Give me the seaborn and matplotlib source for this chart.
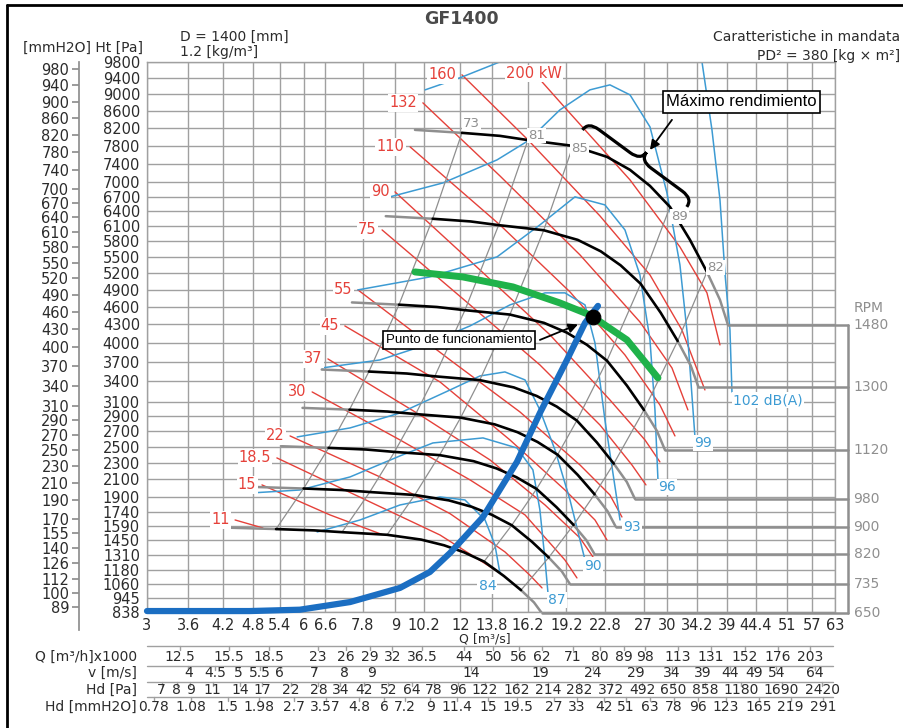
import numpy as np
import seaborn as sns
import matplotlib
matplotlib.use('Agg')
import matplotlib.pyplot as plt
import matplotlib.transforms as mtransforms
from matplotlib.path import Path
from matplotlib.patches import PathPatch
from matplotlib.lines import Line2D
from matplotlib.ticker import NullLocator

# ---------------- axes ticks ----------------
q_ticks = [3, 3.6, 4.2, 4.8, 5.4, 6, 6.6, 7.8, 9, 10.2, 12, 13.8, 16.2, 19.2,
           22.8, 27, 30, 34.2, 39, 44.4, 51, 57, 63]
ht_ticks = [838, 945, 1060, 1180, 1310, 1450, 1590, 1740, 1900, 2100, 2300, 2500,
            2700, 2900, 3100, 3400, 3700, 4000, 4300, 4600, 4900, 5200, 5500, 5800,
            6100, 6400, 6700, 7000, 7400, 7800, 8200, 8600, 9000, 9400, 9800]
mm_ticks = [980, 940, 900, 860, 820, 780, 740, 700, 670, 640, 610, 580, 550, 520,
            490, 460, 430, 400, 370, 340, 310, 290, 270, 250, 230, 210, 190, 170,
            155, 140, 126, 112, 100, 89]

# ---------------- fan curves (Q m3/s, Ht Pa) ----------------
rpm = [1480, 1300, 1120, 980, 900, 820, 735, 650]
q_1480 = [9.82, 12.09, 14.30, 16.19, 19.76, 22.97, 25.43, 27.78, 30.35, 33.16, 35.75, 37.87, 39.23]
h_1480 = [8163, 8095, 8026, 7930, 7799, 7554, 7269, 6925, 6487, 5828, 5221, 4720, 4292]
q_1300 = [8.63, 10.62, 12.56, 14.22, 17.36, 20.18, 22.34, 24.40, 26.66, 29.13, 31.40, 33.26, 34.46]
h_1300 = [6298, 6246, 6192, 6118, 6017, 5828, 5608, 5343, 5005, 4497, 4028, 3642, 3311]
q_1120 = [7.43, 9.15, 10.82, 12.25, 14.95, 17.38, 19.24, 21.02, 22.97, 25.09, 27.05, 28.66, 29.69]
h_1120 = [4675, 4636, 4596, 4541, 4466, 4326, 4163, 3966, 3715, 3338, 2990, 2703, 2458]
q_980 = [6.50, 8.01, 9.47, 10.72, 13.08, 15.21, 16.84, 18.40, 20.10, 21.96, 23.67, 25.08, 25.98]
h_980 = [3579, 3549, 3519, 3477, 3420, 3312, 3187, 3036, 2844, 2555, 2289, 2070, 1882]
q_900 = [5.97, 7.35, 8.70, 9.85, 12.02, 13.97, 15.46, 16.89, 18.46, 20.17, 21.74, 23.03, 23.86]
h_900 = [3019, 2994, 2968, 2933, 2884, 2793, 2688, 2561, 2399, 2155, 1931, 1745, 1587]
q_820 = [5.44, 6.70, 7.92, 8.97, 10.95, 12.73, 14.09, 15.39, 16.82, 18.37, 19.81, 20.98, 21.74]
h_820 = [2506, 2485, 2464, 2434, 2394, 2319, 2231, 2126, 1991, 1789, 1603, 1449, 1318]
q_735 = [4.88, 6.00, 7.10, 8.04, 9.81, 11.41, 12.63, 13.80, 15.07, 16.47, 17.75, 18.81, 19.48]
h_735 = [2013, 1996, 1979, 1956, 1923, 1863, 1793, 1708, 1600, 1437, 1288, 1164, 1059]
q_650 = [4.31, 5.31, 6.28, 7.11, 8.68, 10.09, 11.17, 12.20, 13.33, 14.56, 15.70, 16.63, 17.23]
h_650 = [1575, 1561, 1548, 1530, 1504, 1457, 1402, 1336, 1251, 1124, 1007, 910, 828]

# iso-efficiency lines go through the same point of every speed curve
eff_labels = ['73', '81', '85', '89', '82']
eff_index = [1, 3, 4, 8, 10]

# ---------------- absorbed power lines (kW) ----------------
kw_200_q = [17.23, 19.24, 25.43, 31.72, 35.75, 37.87]
kw_200_h = [9306, 8630, 7053, 5692, 4843, 3964]
kw_160_q = [12.09, 16.19, 22.26, 27.78, 32.00, 35.43]
kw_160_h = [9479, 7935, 6304, 5167, 4208, 3275]
kw_132_q = [10.17, 14.30, 20.38, 26.57, 30.62, 32.86]
kw_132_h = [8797, 7139, 5540, 4342, 3604, 2990]
kw_110_q = [9.61, 14.30, 19.50, 24.87, 29.03, 31.03]
kw_110_h = [7777, 6123, 4860, 3805, 3060, 2639]
kw_90_q = [8.99, 13.09, 17.85, 23.27, 27.17, 29.03]
kw_90_h = [6798, 5259, 4127, 3131, 2587, 2310]
kw_75_q = [8.49, 12.53, 17.07, 22.26, 25.65, 27.29]
kw_75_h = [6023, 4632, 3650, 2785, 2273, 2037]
kw_55_q = [7.63, 11.47, 15.63, 20.38, 23.27, 24.54]
kw_55_h = [4896, 3727, 2962, 2273, 1923, 1685]
kw_45_q = [7.20, 10.97, 14.95, 19.07, 21.78, 22.97]
kw_45_h = [4275, 3393, 2587, 1979, 1654, 1453]
kw_37_q = [6.68, 10.04, 13.69, 17.46, 20.38, 21.59]
kw_37_h = [3743, 2921, 2334, 1813, 1473, 1293]
kw_30_q = [6.23, 9.19, 12.53, 15.98, 19.07, 20.11]
kw_30_h = [3246, 2587, 2095, 1707, 1265, 1108]
kw_22_q = [5.65, 8.41, 11.47, 14.62, 16.34, 17.23]
kw_22_h = [2639, 2130, 1720, 1340, 1130, 1025]
kw_18_q = [5.33, 8.05, 10.97, 14.30]
kw_18_h = [2359, 1846, 1502, 1150]
kw_15_q = [4.99, 6.74, 8.49]
kw_15_h = [2037, 1707, 1507]
kw_11_q = [4.43, 5.01]
kw_11_h = [1654, 1572]

# ---------------- noise lines dB(A) ----------------
db_84_q = [6.37, 7.70, 9.19, 10.97, 12.25, 13.39, 13.99, 14.30]
db_84_h = [1532, 1654, 1813, 1901, 1868, 1654, 1405, 1150]
db_87_q = [4.77, 5.90, 7.37, 9.19, 10.63, 13.27, 15.42, 16.55, 17.07, 17.46, 17.69]
db_87_h = [1946, 1979, 2130, 2384, 2548, 2613, 2484, 2213, 1759, 1265, 984]
db_90_q = [5.83, 7.37, 9.19, 11.47, 13.09, 14.62, 15.98, 17.07, 18.25, 19.50, 20.84]
db_90_h = [2626, 2745, 2948, 3275, 3482, 3543, 3423, 2990, 2459, 1868, 1265]
db_93_q = [6.51, 8.41, 10.04, 12.53, 14.95, 17.46, 19.07, 20.84, 21.78, 22.76, 24.33]
db_93_h = [3604, 3727, 3933, 4275, 4632, 4843, 4843, 4632, 3996, 2853, 1654]
db_96_q = [7.63, 10.49, 14.12, 17.07, 19.93, 22.76, 24.87, 26.57, 27.78, 28.40, 28.78]
db_96_h = [4896, 5130, 5502, 6123, 6694, 6528, 6023, 5167, 4045, 2990, 2095]
db_99_q = [8.79, 11.12, 14.12, 16.19, 18.65, 21.30, 23.27, 25.43, 27.78, 29.95, 31.72, 32.86, 33.90]
db_99_h = [6694, 6989, 7487, 7912, 8630, 9110, 9232, 8989, 8232, 6778, 5351, 4045, 2626]
db_102_q = [10.27, 11.98, 14.30, 17.07, 22.26, 27.78, 33.16, 34.97, 36.55, 37.87, 38.71, 39.58, 39.93]
db_102_h = [9110, 9405, 9803, 10367, 10760, 10628, 10237, 9803, 8163, 6631, 5203, 4208, 3246]

# ---------------- system curve, selected speed, duty point ----------------
sys_q = [3.0, 4.73, 5.90, 7.37, 9.19, 10.49, 11.47, 13.27, 15.42, 17.07, 19.24, 20.84, 22.07]
sys_h = [845, 845, 855, 913, 1025, 1159, 1330, 1685, 2310, 2948, 3727, 4325, 4615]
green_q = [9.82, 12.13, 15.15, 18.65, 21.30, 25.09, 28.78]
green_h = [5221, 5130, 4949, 4666, 4460, 4045, 3453]
duty_q = [21.6]
duty_h = [4420]

# ---------------- bottom scales ----------------
q_m3h = [12.5, 15.5, 18.5, 23, 26, 29, 32, 36.5, 44, 50, 56, 62, 71, 80, 89, 98,
         113, 131, 152, 176, 203]
v_ms = [4, 4.5, 5, 5.5, 6, 7, 8, 9, 14, 19, 24, 29, 34, 39, 44, 49, 54, 64]
hd_pa = [7, 8, 9, 11, 14, 17, 22, 28, 34, 42, 52, 64, 78, 96, 122, 162, 214, 282,
         372, 492, 650, 858, 1180, 1690, 2420]
hd_mm = [0.78, 1.08, 1.5, 1.98, 2.7, 3.57, 4.8, 6, 7.2, 9, 11.4, 15, 19.5, 27, 33,
         42, 51, 63, 78, 96, 123, 165, 219, 291]

RED = '#e5413a'
BLUE = '#3d9bd3'
GRAY = '#8f8f8f'
GRID = '#a0a0a0'
TXT = '#2b2b2b'
NARROW = ['Liberation Sans Narrow', 'Liberation Sans', 'DejaVu Sans']
NUM = 10.5

sns.set_theme(style='white')
plt.rcParams['font.family'] = ['DejaVu Sans']

W, H = 904, 728
fig = plt.figure(figsize=(W / 100, H / 100), dpi=100)
ax = fig.add_axes([147 / W, 116 / H, 688 / W, 550 / H])
ax.set_xscale('log')
ax.set_yscale('function', functions=(np.sqrt, np.square))
ax.set_xlim(3, 63)
ax.set_ylim(838, 9800)


def line(q, h, color, lw, z, **kw):
    sns.lineplot(x=q, y=h, ax=ax, color=color, linewidth=lw, sort=False,
                 estimator=None, legend=False, zorder=z, **kw)


white_box = dict(boxstyle='square,pad=0.08', fc='white', ec='none')

# power lines
kw_lines = [('200 kW', kw_200_q, kw_200_h), ('160', kw_160_q, kw_160_h),
            ('132', kw_132_q, kw_132_h), ('110', kw_110_q, kw_110_h),
            ('90', kw_90_q, kw_90_h), ('75', kw_75_q, kw_75_h),
            ('55', kw_55_q, kw_55_h), ('45', kw_45_q, kw_45_h),
            ('37', kw_37_q, kw_37_h), ('30', kw_30_q, kw_30_h),
            ('22', kw_22_q, kw_22_h), ('18.5', kw_18_q, kw_18_h),
            ('15', kw_15_q, kw_15_h), ('11', kw_11_q, kw_11_h)]
for name, q, h in kw_lines:
    line(q, h, RED, 1.0, 2)
    if name == '200 kW':
        ax.annotate(name, (q[0], h[0]), xytext=(-6, 6), textcoords='offset points',
                    ha='center', va='center', color=RED, fontsize=10.5, zorder=7,
                    bbox=white_box)
    else:
        ax.annotate(name, (q[0], h[0]), xytext=(-4, 0), textcoords='offset points',
                    ha='right', va='center', color=RED, fontsize=10.5, zorder=7,
                    bbox=white_box)

# noise lines
db_lines = [('84', db_84_q, db_84_h, (-9, -9), 'center'),
            ('87', db_87_q, db_87_h, (6.5, -5), 'center'),
            ('90', db_90_q, db_90_h, (6, -4), 'center'),
            ('93', db_93_q, db_93_h, (8.5, -5), 'center'),
            ('96', db_96_q, db_96_h, (6.5, -5), 'center'),
            ('99', db_99_q, db_99_h, (6, -4.5), 'center'),
            ('102 dB(A)', db_102_q, db_102_h, (1, -6), 'left')]
for name, q, h, off, ha in db_lines:
    line(q, h, BLUE, 1.1, 2)
    ax.annotate(name, (q[-1], h[-1]), xytext=off, textcoords='offset points',
                ha=ha, va='center', color=BLUE, fontsize=10, zorder=7, bbox=white_box)

# fan curves: grey stall part, black working part, grey run-out and speed step
fan_curves = [(q_1480, h_1480), (q_1300, h_1300), (q_1120, h_1120), (q_980, h_980),
              (q_900, h_900), (q_820, h_820), (q_735, h_735), (q_650, h_650)]
q_far = ax.get_xlim()[1] * 1.06
right_trans = mtransforms.blended_transform_factory(ax.transAxes, ax.transData)
for n, (q, h) in zip(rpm, fan_curves):
    line(q[0:2], h[0:2], GRAY, 1.8, 3)
    line(q[10:], h[10:], GRAY, 1.8, 3)
    line([q[-1], q_far], [h[-1], h[-1]], GRAY, 1.8, 3, clip_on=False)
    line(q[1:11], h[1:11], 'black', 1.9, 3.5)
    ax.text(1.027, h[-1], str(n), transform=right_trans, ha='left', va='center',
            color=GRAY, fontsize=10)
line([q_far, q_far], [h_1480[-1], h_650[-1]], GRAY, 1.8, 3, clip_on=False)
ax.annotate('RPM', (1.027, h_1480[-1]), xycoords=right_trans, xytext=(0, 12),
            textcoords='offset points', ha='left', va='center', color=GRAY, fontsize=10)

# iso-efficiency lines
eff_offsets = [(7, 7), (6.5, 3.5), (5, -2), (7, -7), (6, 3.5)]
for lab, idx, off in zip(eff_labels, eff_index, eff_offsets):
    qs = [c[0][idx] for c in fan_curves]
    hs = [c[1][idx] for c in fan_curves]
    line(qs, hs, GRAY, 0.9, 2.5)
    ax.annotate(lab, (qs[0], hs[0]), xytext=off, textcoords='offset points',
                ha='center', va='center', color=GRAY, fontsize=9.5, zorder=7,
                bbox=white_box)

# selected speed, system curve and duty point
line(green_q, green_h, '#1fb24a', 5.0, 4)
line(sys_q, sys_h, '#1b6ec2', 4.5, 5, clip_on=False)
sns.scatterplot(x=duty_q, y=duty_h, ax=ax, color='black', s=110, zorder=6,
                edgecolor='black', legend=False)

# annotations
ax.text(41.7, 8821, 'Máximo rendimiento', ha='center', va='center', fontsize=12,
        family=NARROW, color='black', zorder=8,
        bbox=dict(boxstyle='square,pad=0.2', fc='white', ec='black', lw=1.2))
ax.annotate('', xy=(27.78, 7709), xytext=(30.62, 8396), zorder=8,
            arrowprops=dict(arrowstyle='-|>', color='black', lw=1.3,
                            mutation_scale=14, shrinkA=0, shrinkB=0))
ax.text(11.93, 4045, 'Punto de funcionamiento', ha='center', va='center',
        fontsize=9.5, family=NARROW, color='black', zorder=8,
        bbox=dict(boxstyle='square,pad=0.2', fc='white', ec='black', lw=1.2))
ax.annotate('', xy=(20.2, 4300), xytext=(17.07, 4045), zorder=8,
            arrowprops=dict(arrowstyle='-|>', color='black', lw=1.3,
                            mutation_scale=14, shrinkA=0, shrinkB=0))


def draw_brace(p0, p1, width):
    a = ax.transData.transform(p0)
    b = ax.transData.transform(p1)
    d = b - a
    L = np.hypot(*d)
    u = d / L
    nrm = np.array([-u[1], u[0]])
    hh = width / 2
    qq = 0.1 * L
    local = [(0, 0), (0, hh), (qq, hh), (L / 2 - qq, hh), (L / 2, hh), (L / 2, width),
             (L / 2, hh), (L / 2 + qq, hh), (L - qq, hh), (L, hh), (L, 0)]
    codes = [Path.MOVETO, Path.CURVE3, Path.CURVE3, Path.LINETO, Path.CURVE3,
             Path.CURVE3, Path.CURVE3, Path.CURVE3, Path.LINETO, Path.CURVE3, Path.CURVE3]
    pts = [a + s * u + o * nrm for s, o in local]
    patch = PathPatch(Path(pts, codes), transform=mtransforms.IdentityTransform(),
                      fc='none', ec='black', lw=2.3, zorder=8)
    fig.add_artist(patch)


draw_brace((20.6, 8163), (32.7, 6487), 20)

# ticks, grid
ax.set_xticks(q_ticks)
ax.set_xticklabels(['{:g}'.format(v) for v in q_ticks])
ax.xaxis.set_minor_locator(NullLocator())
ax.set_yticks(ht_ticks)
ax.set_yticklabels([str(v) for v in ht_ticks])
ax.yaxis.set_minor_locator(NullLocator())
ax.tick_params(axis='x', length=4, width=1, color=GRAY, pad=0.5, labelsize=NUM,
               labelcolor=TXT)
ax.tick_params(axis='y', length=0, pad=5, labelsize=NUM, labelcolor=TXT)
ax.grid(True, color=GRID, lw=1.0)
ax.set_axisbelow(True)
for sp in ax.spines.values():
    sp.set_color(GRID)
    sp.set_linewidth(1.0)
ax.set_xlabel('')
ax.set_ylabel('')

# mmH2O scale
ax2 = ax.twinx()
ax2.set_yscale('function', functions=(np.sqrt, np.square))
ax2.set_ylim(838, 9800)
ax2.set_yticks([m * 9.81 for m in mm_ticks])
ax2.set_yticklabels([str(m) for m in mm_ticks])
ax2.yaxis.set_minor_locator(NullLocator())
ax2.yaxis.tick_left()
for k in ['right', 'top', 'bottom']:
    ax2.spines[k].set_visible(False)
ax2.spines['left'].set_position(('axes', -68 / 688))
ax2.spines['left'].set_color(GRAY)
ax2.spines['left'].set_bounds(711, 9800)
ax2.tick_params(axis='y', direction='out', length=5, color=GRAY, pad=2,
                labelsize=NUM, labelcolor=TXT)
ax2.tick_params(axis='x', which='both', bottom=False, top=False,
                labelbottom=False, labeltop=False)

# bottom conversion scales
trans_row = mtransforms.blended_transform_factory(ax.transData, fig.transFigure)
rows = [('Q [m³/h]x1000', q_m3h, [v / 3.6 for v in q_m3h], 646, 657),
        ('v [m/s]', v_ms, [0.9 * v for v in v_ms], 666, 673),
        ('Hd [Pa]', hd_pa, [1.21 * np.sqrt(v) for v in hd_pa], 682, 690),
        ('Hd [mmH2O]', hd_mm, [3.5 * np.sqrt(v) for v in hd_mm], 697, 707)]
for name, vals, pos, y_line, y_lab in rows:
    yl = 1 - y_line / H
    ax.plot([3, 62.5], [yl, yl], transform=trans_row, color=GRID, lw=1.0,
            clip_on=False)
    for v, p in zip(vals, pos):
        ax.plot([p, p], [yl, yl - 4 / H], transform=trans_row, color=GRID, lw=1.0,
                clip_on=False)
        ax.text(p, 1 - y_lab / H, '{:g}'.format(v), transform=trans_row, ha='center',
                va='center', fontsize=10, color=TXT)
    fig.text(137 / W, 1 - y_lab / H, name, ha='right', va='center', fontsize=10,
             color=TXT)

# header texts
fig.text(461 / W, 1 - 19 / H, 'GF1400', ha='center', va='center', fontsize=12.5,
         fontweight='bold', color='#4a4a4a')
fig.text(180 / W, 1 - 37 / H, 'D = 1400 [mm]', ha='left', va='center', fontsize=10,
         color=TXT)
fig.text(180 / W, 1 - 52 / H, '1.2 [kg/m³]', ha='left', va='center', fontsize=10,
         color=TXT)
fig.text(143 / W, 1 - 48 / H, '[mmH2O] Ht [Pa]', ha='right', va='center', fontsize=10,
         color=TXT)
fig.text(900 / W, 1 - 37 / H, 'Caratteristiche in mandata', ha='right', va='center',
         fontsize=10, color=TXT)
fig.text(900 / W, 1 - 56 / H, 'PD² = 380 [kg × m²]', ha='right', va='center',
         fontsize=10, color=TXT)
fig.text(485 / W, 1 - 638.5 / H, 'Q [m³/s]', ha='center', va='center', fontsize=9,
         color=TXT)

# outer frame
fig.add_artist(Line2D([7 / W, 7 / W], [0, 1 - 5 / H], color='black', lw=2))
fig.add_artist(Line2D([7 / W, 1], [1 - 5 / H, 1 - 5 / H], color='black', lw=2))

fig.savefig('out.png', dpi=100)
